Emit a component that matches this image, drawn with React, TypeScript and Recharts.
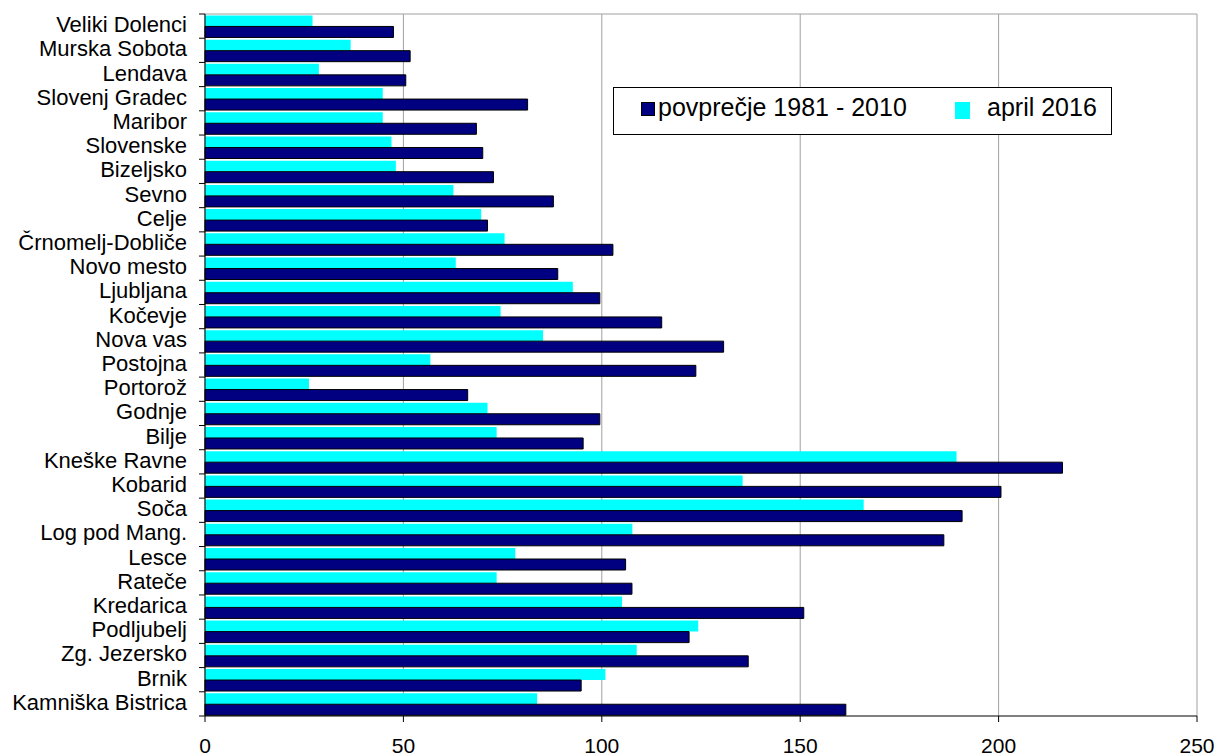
import { Bar, BarChart, CartesianGrid, Legend, XAxis, YAxis } from "recharts";

const stations = [
  "Veliki Dolenci",
  "Murska Sobota",
  "Lendava",
  "Slovenj Gradec",
  "Maribor",
  "Slovenske",
  "Bizeljsko",
  "Sevno",
  "Celje",
  "Črnomelj-Dobliče",
  "Novo mesto",
  "Ljubljana",
  "Kočevje",
  "Nova vas",
  "Postojna",
  "Portorož",
  "Godnje",
  "Bilje",
  "Kneške Ravne",
  "Kobarid",
  "Soča",
  "Log pod Mang.",
  "Lesce",
  "Rateče",
  "Kredarica",
  "Podljubelj",
  "Zg. Jezersko",
  "Brnik",
  "Kamniška Bistrica",
];

// april 2016
const april2016 = [
  27.1, 36.7, 28.7, 44.8, 44.8, 47.0, 48.1, 62.6, 69.6, 75.5, 63.2, 92.7, 74.5, 85.2,
  56.8, 26.2, 71.2, 73.5, 189.4, 135.5, 166.0, 107.7, 78.2, 73.5, 105.1, 124.3, 108.8,
  100.9, 83.7,
];

// povprečje 1981 - 2010
const average = [
  47.5, 51.7, 50.6, 81.3, 68.4, 70.0, 72.7, 87.8, 71.2, 102.8, 88.9, 99.5, 115.1, 130.7,
  123.7, 66.2, 99.5, 95.3, 216.1, 200.6, 190.8, 186.2, 106.0, 107.6, 150.9, 122.0, 136.9,
  94.8, 161.5,
];

const xTicks = [0, 50, 100, 150, 200, 250];

const data = stations.map((name, i) => ({
  name,
  april: april2016[i],
  avg: average[i],
}));

const W = 1219;
const H = 756;
const TOP = 14;
const RIGHT = 22;
const X_AXIS_H = 40;
const Y_AXIS_W = 205;
const BAND = (H - TOP - X_AXIS_H) / stations.length;
const FONT = "'Liberation Sans', Arial, sans-serif";

function StationTick(props: any) {
  const { y, payload, index } = props;
  const left = Y_AXIS_W;
  return (
    <g>
      <line x1={left - 6} x2={left} y1={y - BAND / 2} y2={y - BAND / 2} stroke="#000" />
      {index === stations.length - 1 && (
        <line x1={left - 6} x2={left} y1={y + BAND / 2} y2={y + BAND / 2} stroke="#000" />
      )}
      <text x={left - 18} y={y} dy={6} textAnchor="end" fontSize={22} fill="#000">
        {payload.value}
      </text>
    </g>
  );
}

function ValueTick(props: any) {
  const { x, payload } = props;
  return (
    <text x={x} y={H - X_AXIS_H + 37} textAnchor="middle" fontSize={21} fill="#000">
      {payload.value}
    </text>
  );
}

function LegendBox() {
  return (
    <div
      style={{
        position: "relative",
        width: 499,
        height: 48,
        boxSizing: "border-box",
        border: "1px solid #000",
        background: "#fff",
        fontFamily: FONT,
        fontSize: 25,
        color: "#000",
      }}
    >
      <div
        style={{
          position: "absolute",
          left: 27,
          top: 14,
          width: 14,
          height: 14,
          boxSizing: "border-box",
          background: "#000080",
          border: "1px solid #000",
        }}
      />
      <span style={{ position: "absolute", left: 44, top: 7, lineHeight: "25px", whiteSpace: "nowrap" }}>
        povprečje 1981 - 2010
      </span>
      <div
        style={{
          position: "absolute",
          left: 341,
          top: 14,
          width: 15,
          height: 17,
          background: "#00FFFF",
        }}
      />
      <span style={{ position: "absolute", left: 373, top: 7, lineHeight: "25px", whiteSpace: "nowrap" }}>
        april 2016
      </span>
    </div>
  );
}

export default function App() {
  return (
    <div style={{ position: "absolute", left: 0, top: 0, width: W, height: H, background: "#fff", fontFamily: FONT }}>
      <BarChart
        width={W}
        height={H}
        data={data}
        layout="vertical"
        margin={{ top: TOP, right: RIGHT, bottom: 0, left: 0 }}
        barCategoryGap="6%"
        barGap={0}
      >
        <CartesianGrid
          stroke="#a0a0a0"
          horizontalCoordinatesGenerator={({ offset }: any) => [offset.top]}
        />
        <XAxis
          type="number"
          domain={[0, 250]}
          ticks={xTicks}
          height={X_AXIS_H}
          axisLine={{ stroke: "#000" }}
          tickLine={{ stroke: "#000" }}
          tickSize={6}
          tick={<ValueTick />}
        />
        <YAxis
          type="category"
          dataKey="name"
          width={Y_AXIS_W}
          axisLine={{ stroke: "#000" }}
          tickLine={false}
          interval={0}
          tick={<StationTick />}
        />
        <Legend
          layout="horizontal"
          verticalAlign="middle"
          align="center"
          wrapperStyle={{ left: 613, top: 87, width: 499, height: 48 }}
          content={() => <LegendBox />}
        />
        <Bar dataKey="april" name="april 2016" fill="#00FFFF" isAnimationActive={false} />
        <Bar
          dataKey="avg"
          name="povprečje 1981 - 2010"
          fill="#000080"
          stroke="#000"
          strokeWidth={1}
          isAnimationActive={false}
        />
      </BarChart>
    </div>
  );
}
